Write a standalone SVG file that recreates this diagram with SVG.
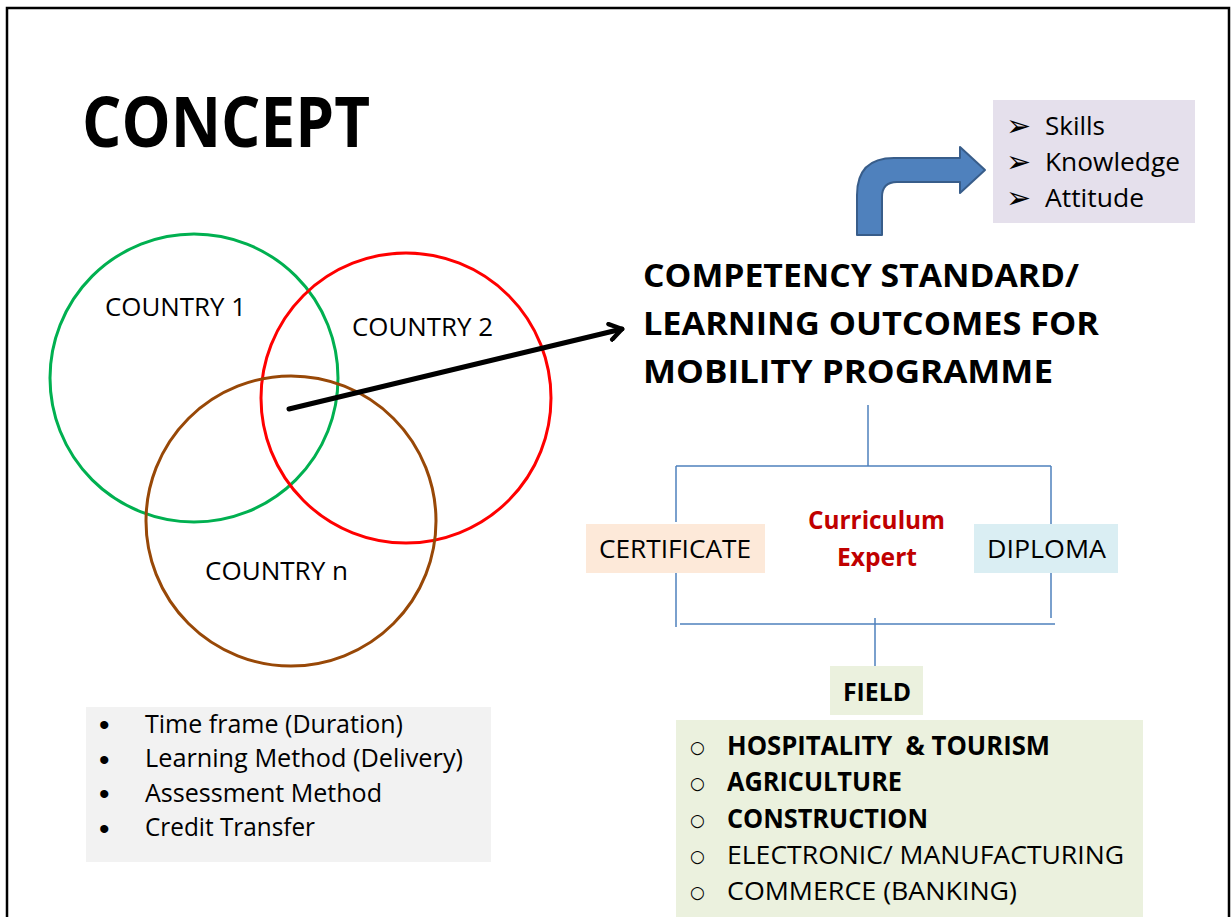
<svg xmlns="http://www.w3.org/2000/svg" width="1231" height="917" viewBox="0 0 1231 917">
<style>
text{font-family:"Open Sans","Liberation Sans",sans-serif;fill:#000}
.b{font-weight:bold}
.r{font-size:26px}
.c{fill:none;stroke-width:3}
.tree{stroke:#4f81bd;stroke-width:1.5;fill:none}
.circ{font-family:"DejaVu Sans",sans-serif;font-size:17px}
.sym{font-family:"DejaVu Sans",sans-serif;font-size:30px}
.dot{font-family:"Liberation Sans",sans-serif;font-size:30px}
</style>
<defs>
<marker id="open" viewBox="0 0 20 20" refX="15" refY="10" markerWidth="20" markerHeight="20" markerUnits="userSpaceOnUse" orient="auto">
<path d="M3,2 L15,10 L3,18" fill="none" stroke="#000" stroke-width="4.5" stroke-linecap="round" stroke-linejoin="round"/>
</marker>
</defs>
<rect width="1231" height="917" fill="#fff"/>
<path d="M7,920 V8 H1229 V920" fill="none" stroke="#000" stroke-width="2.5"/>

<g id="title"><text class="b" x="82" y="147" font-size="70" textLength="288" lengthAdjust="spacingAndGlyphs">CONCEPT</text></g>

<g id="country1"><circle class="c" cx="194" cy="378" r="144" stroke="#00b050"/><text class="r" x="105" y="316" textLength="141" lengthAdjust="spacingAndGlyphs">COUNTRY 1</text></g>
<g id="country2"><circle class="c" cx="406" cy="398" r="145" stroke="#ff0000"/><text class="r" x="352" y="336" textLength="141" lengthAdjust="spacingAndGlyphs">COUNTRY 2</text></g>
<g id="countryn"><circle class="c" cx="291" cy="521" r="145" stroke="#984807"/><text class="r" x="205" y="580" textLength="143" lengthAdjust="spacingAndGlyphs">COUNTRY n</text></g>

<g id="competency">
<text class="b" font-size="32" x="643" y="287" textLength="436" lengthAdjust="spacingAndGlyphs">COMPETENCY STANDARD/</text>
<text class="b" font-size="32" x="643" y="335" textLength="456" lengthAdjust="spacingAndGlyphs">LEARNING OUTCOMES FOR</text>
<text class="b" font-size="32" x="643" y="383" textLength="410" lengthAdjust="spacingAndGlyphs">MOBILITY PROGRAMME</text>
</g>

<g id="ska">
<rect x="993" y="100" width="202" height="123" fill="#e5e0ec"/>
<text class="sym" x="1006" y="136">➢</text>
<text class="sym" x="1006" y="172">➢</text>
<text class="sym" x="1006" y="208">➢</text>
<text class="r" x="1045" y="135" textLength="60" lengthAdjust="spacingAndGlyphs">Skills</text>
<text class="r" x="1045" y="171" textLength="135" lengthAdjust="spacingAndGlyphs">Knowledge</text>
<text class="r" x="1045" y="207" textLength="99" lengthAdjust="spacingAndGlyphs">Attitude</text>
</g>

<g id="bent-arrow">
<path d="M857,235 L857,195 Q857,158 894,158 L960,158 L960,147 L985,170 L960,193 L960,182 L897,182 Q882,182 882,197 L882,235 Z" fill="#4f81bd" stroke="#385d8a" stroke-width="2" stroke-linejoin="round"/>
</g>

<g id="connectors">
<line x1="289" y1="409" x2="622" y2="329" stroke="#000" stroke-width="5" stroke-linecap="round" marker-end="url(#open)"/>
<path class="tree" d="M868,405 V466 M676,466 H1051 M676,466 V522 M1051,466 V524 M676,573 V627 M1051,563 V618 M680,624 H1055 M875,618 V678"/>
</g>

<g id="certificate"><rect x="586" y="524" width="179" height="49" fill="#fde9d9"/><text class="r" x="599" y="558" font-size="25" textLength="152" lengthAdjust="spacingAndGlyphs">CERTIFICATE</text></g>
<g id="diploma"><rect x="974" y="524" width="144" height="49" fill="#daeef3"/><text class="r" x="987" y="558" font-size="25" textLength="119" lengthAdjust="spacingAndGlyphs">DIPLOMA</text></g>
<g id="expert">
<text class="b" x="808" y="529" font-size="25" style="fill:#c00000" textLength="137" lengthAdjust="spacingAndGlyphs">Curriculum</text>
<text class="b" x="837" y="566" font-size="25" style="fill:#c00000" textLength="80" lengthAdjust="spacingAndGlyphs">Expert</text>
</g>

<g id="field"><rect x="830" y="666" width="93" height="49" fill="#ebf1de"/><text class="b" x="843" y="701" font-size="25" textLength="68" lengthAdjust="spacingAndGlyphs">FIELD</text></g>

<g id="fields">
<rect x="676" y="720" width="467" height="197" fill="#ebf1de"/>
<text class="circ" x="690" y="753">○</text>
<text class="circ" x="690" y="789">○</text>
<text class="circ" x="690" y="826">○</text>
<text class="circ" x="690" y="862">○</text>
<text class="circ" x="690" y="898">○</text>
<text class="b" x="727" y="755" font-size="26" xml:space="preserve" textLength="323" lengthAdjust="spacingAndGlyphs">HOSPITALITY  &amp; TOURISM</text>
<text class="b" x="727" y="791" font-size="26" textLength="175" lengthAdjust="spacingAndGlyphs">AGRICULTURE</text>
<text class="b" x="727" y="828" font-size="26" textLength="201" lengthAdjust="spacingAndGlyphs">CONSTRUCTION</text>
<text x="727" y="864" font-size="26" textLength="397" lengthAdjust="spacingAndGlyphs">ELECTRONIC/ MANUFACTURING</text>
<text x="727" y="900" font-size="26" textLength="290" lengthAdjust="spacingAndGlyphs">COMMERCE (BANKING)</text>
</g>

<g id="aspects">
<rect x="86" y="707" width="405" height="155" fill="#f2f2f2"/>
<text class="dot" x="99" y="735">•</text>
<text class="dot" x="99" y="770">•</text>
<text class="dot" x="99" y="804">•</text>
<text class="dot" x="99" y="839">•</text>
<text x="145" y="733" font-size="25" textLength="258" lengthAdjust="spacingAndGlyphs">Time frame (Duration)</text>
<text x="145" y="767" font-size="25" textLength="318" lengthAdjust="spacingAndGlyphs">Learning Method (Delivery)</text>
<text x="145" y="802" font-size="25" textLength="237" lengthAdjust="spacingAndGlyphs">Assessment Method</text>
<text x="145" y="836" font-size="25" textLength="170" lengthAdjust="spacingAndGlyphs">Credit Transfer</text>
</g>
</svg>
